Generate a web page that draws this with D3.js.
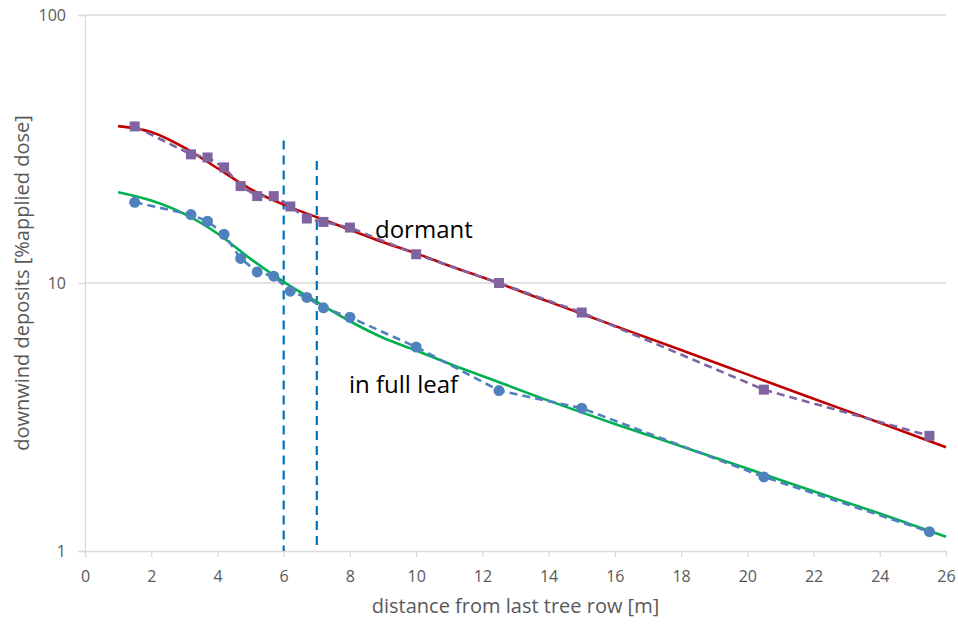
<!DOCTYPE html>
<html>
<head>
<meta charset="utf-8">
<script src="https://cdn.jsdelivr.net/npm/d3@7"></script>
<style>
  html, body { margin: 0; padding: 0; background: #fff; }
  svg { display: block; }
  .tick text { font-family: "Open Sans", "Liberation Sans", sans-serif; fill: #595959; }
</style>
</head>
<body>
<svg id="chart" width="958" height="625"></svg>
<script>
// Measured deposits, dormant trees (purple squares)
const dormantX = [1.5, 3.2, 3.7, 4.2, 4.7, 5.2, 5.7, 6.2, 6.7, 7.2, 8, 10, 12.5, 15, 20.5, 25.5];
const dormantY = [38.4, 30.2, 29.4, 27.0, 23.0, 21.1, 21.1, 19.3, 17.4, 16.9, 16.1, 12.8, 10.0, 7.76, 4.0, 2.69];

// Measured deposits, trees in full leaf (blue circles)
const leafX = [1.5, 3.2, 3.7, 4.2, 4.7, 5.2, 5.7, 6.2, 6.7, 7.2, 8, 10, 12.5, 15, 20.5, 25.5];
const leafY = [20.0, 18.0, 17.0, 15.2, 12.35, 11.0, 10.6, 9.32, 8.83, 8.08, 7.45, 5.77, 3.97, 3.41, 1.89, 1.18];

// Fitted curves
const fitX = [1, 2, 3, 4, 5, 6, 7, 8, 9, 10, 11, 12, 14, 16, 18, 20, 22, 24, 26];
const fitDormant = [38.5, 36.6, 32.0, 26.8, 22.4, 19.6, 17.6, 15.8, 14.2, 12.9, 11.6, 10.5, 8.52, 6.92, 5.62, 4.56, 3.70, 3.01, 2.44];
const fitLeaf = [21.8, 20.3, 18.1, 15.3, 12.3, 10.1, 8.5, 7.2, 6.25, 5.6, 5.0, 4.5, 3.64, 2.98, 2.46, 2.03, 1.67, 1.38, 1.13];

// Vertical reference markers (distance, top value)
const markerX = [6, 7];
const markerTop = [34, 28.5];

// Axis ticks
const xTicks = [0, 2, 4, 6, 8, 10, 12, 14, 16, 18, 20, 22, 24, 26];
const yTicks = [1, 10, 100];

const svg = d3.select("#chart");
const margin = { left: 85, right: 12, top: 15, bottom: 74 };
const W = 958, H = 625;

const x = d3.scaleLinear().domain([0, 26]).range([margin.left, W - margin.right]);
const y = d3.scaleLog().domain([1, 100]).range([H - margin.bottom, margin.top]);

// Horizontal gridlines
svg.append("g")
  .selectAll("line")
  .data(yTicks.slice(1))
  .join("line")
  .attr("x1", x(0)).attr("x2", x(26))
  .attr("y1", d => y(d)).attr("y2", d => y(d))
  .attr("stroke", "#d9d9d9").attr("stroke-width", 1.3);

// Y axis
const yAxis = svg.append("g")
  .attr("transform", `translate(${x(0)},0)`)
  .call(d3.axisLeft(y).tickValues(yTicks).tickFormat(d3.format("d")).tickSize(7).tickPadding(12));
yAxis.select(".domain").attr("stroke", "#d9d9d9").attr("stroke-width", 1.3);
yAxis.selectAll(".tick line").attr("stroke", "#d9d9d9").attr("stroke-width", 1.3);
yAxis.selectAll(".tick text").attr("font-size", 16);

// X axis
const xAxis = svg.append("g")
  .attr("transform", `translate(0,${y(1)})`)
  .call(d3.axisBottom(x).tickValues(xTicks).tickSize(6).tickPadding(14).tickSizeOuter(0));
xAxis.select(".domain").attr("stroke", "#d9d9d9").attr("stroke-width", 1.3);
xAxis.selectAll(".tick line").attr("stroke", "#d9d9d9").attr("stroke-width", 1.3);
xAxis.selectAll(".tick text").attr("font-size", 16);

// Axis titles
svg.append("text")
  .attr("x", (x(0) + x(26)) / 2).attr("y", 613)
  .attr("text-anchor", "middle")
  .attr("font-family", "'Open Sans', sans-serif")
  .attr("font-size", 20).attr("fill", "#595959")
  .text("distance from last tree row [m]");

svg.append("text")
  .attr("transform", `translate(29,${y(10)}) rotate(-90)`)
  .attr("text-anchor", "middle")
  .attr("font-family", "'Open Sans', sans-serif")
  .attr("font-size", 20).attr("fill", "#595959")
  .text("downwind deposits [%applied dose]");

// Dashed vertical markers at 6 m and 7 m
svg.append("g")
  .selectAll("line")
  .data(markerX)
  .join("line")
  .attr("x1", d => x(d)).attr("x2", d => x(d))
  .attr("y1", (d, i) => y(markerTop[i])).attr("y2", y(1))
  .attr("stroke", "#0070c0").attr("stroke-width", 2.2)
  .attr("stroke-dasharray", "9,6");

const fitLine = d3.line().curve(d3.curveMonotoneX);
const dataLine = d3.line();

// Fitted curves
svg.append("path")
  .attr("d", fitLine(fitX.map((d, i) => [x(d), y(fitDormant[i])])))
  .attr("fill", "none").attr("stroke", "#c00000").attr("stroke-width", 2.6);
svg.append("path")
  .attr("d", fitLine(fitX.map((d, i) => [x(d), y(fitLeaf[i])])))
  .attr("fill", "none").attr("stroke", "#00b050").attr("stroke-width", 2.6);

// Dashed measurement lines
svg.append("path")
  .attr("d", dataLine(dormantX.map((d, i) => [x(d), y(dormantY[i])])))
  .attr("fill", "none").attr("stroke", "#8064a2").attr("stroke-width", 2.6)
  .attr("stroke-dasharray", "8,5");
svg.append("path")
  .attr("d", dataLine(leafX.map((d, i) => [x(d), y(leafY[i])])))
  .attr("fill", "none").attr("stroke", "#4f81bd").attr("stroke-width", 2.6)
  .attr("stroke-dasharray", "8,5");

// Markers
svg.append("g")
  .selectAll("rect")
  .data(dormantX)
  .join("rect")
  .attr("x", d => x(d) - 5).attr("y", (d, i) => y(dormantY[i]) - 5)
  .attr("width", 10).attr("height", 10)
  .attr("fill", "#8064a2");
svg.append("g")
  .selectAll("circle")
  .data(leafX)
  .join("circle")
  .attr("cx", d => x(d)).attr("cy", (d, i) => y(leafY[i]))
  .attr("r", 5.5)
  .attr("fill", "#4f81bd");

// Curve labels
svg.append("text")
  .attr("x", 375).attr("y", 238)
  .attr("font-family", "'Open Sans', sans-serif")
  .attr("font-size", 24).attr("fill", "#000")
  .text("dormant");
svg.append("text")
  .attr("x", 349).attr("y", 393)
  .attr("font-family", "'Open Sans', sans-serif")
  .attr("font-size", 24).attr("fill", "#000")
  .text("in full leaf");
</script>
</body>
</html>
